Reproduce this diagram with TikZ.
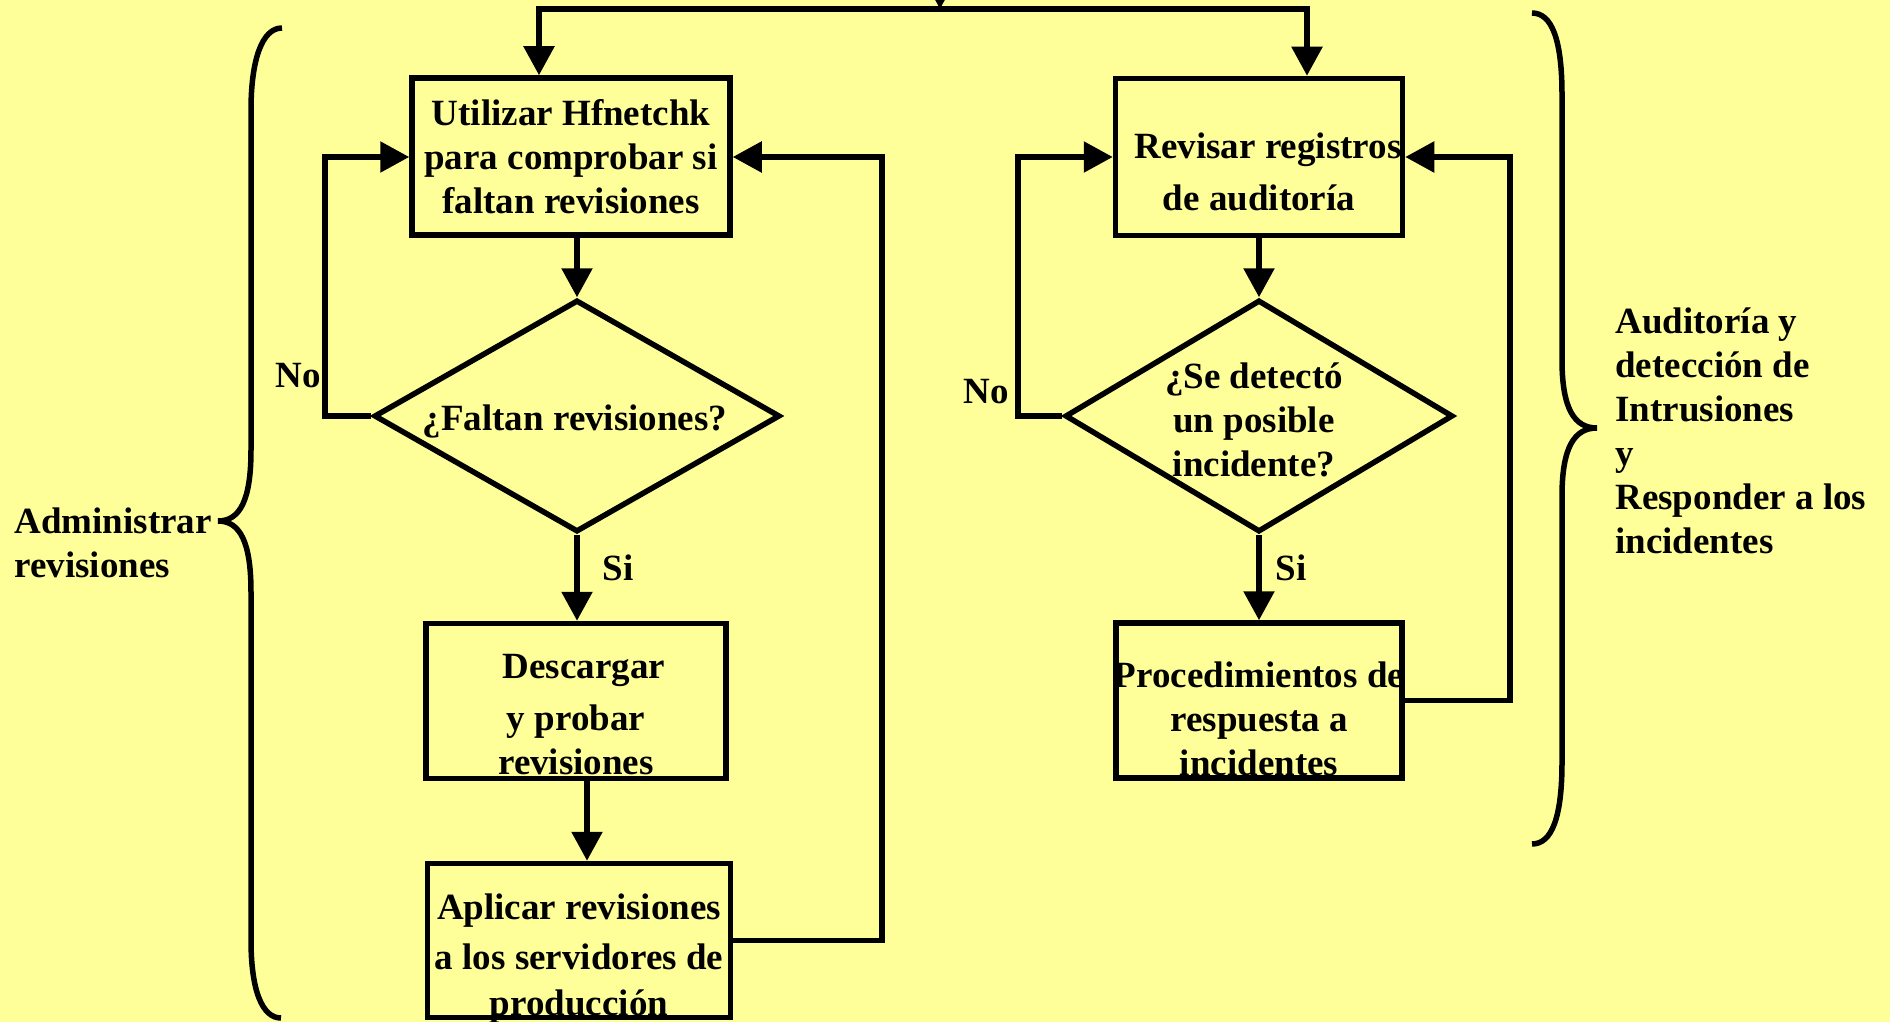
\documentclass[tikz,border=0pt]{standalone}
\usepackage{fontspec}
\setmainfont{Liberation Serif}
\usetikzlibrary{arrows.meta,shapes.geometric}
\definecolor{bgyellow}{HTML}{FFFF99}
\begin{document}
\begin{tikzpicture}[x=0.5pt,y=-0.5pt,
  every node/.style={font=\fontsize{18.5}{22}\selectfont\bfseries},
  box/.style={draw, rectangle, line width=2.75pt, inner sep=0pt},
  dia/.style={draw, diamond, line width=2.75pt, inner sep=0pt},
  txt/.style={align=center, inner sep=0pt},
  sidelabel/.style={align=left, anchor=west, inner sep=0pt},
  flow/.style={line width=2.75pt, -{Triangle[length=14.5pt,width=15pt]}},
  brace/.style={line width=2.75pt}]
\fill[bgyellow] (0,0) rectangle (1890,1022);
\useasboundingbox (0,0) rectangle (1890,1022);

% shapes
\node[box, minimum width=159pt, minimum height=78.5pt] (b1) at (571,156.5) {};
\node[box, minimum width=143.5pt, minimum height=78.5pt] (r1) at (1259,157) {};
\node[box, minimum width=150pt, minimum height=77.5pt] (l2) at (576,701) {};
\node[box, minimum width=151.5pt, minimum height=77pt] (l3) at (579,940.5) {};
\node[box, minimum width=143pt, minimum height=77.5pt] (r2) at (1259,700.5) {};
\node[dia, minimum width=203pt, minimum height=116pt] (d1) at (577,416) {};
\node[dia, minimum width=194pt, minimum height=116pt] (d2) at (1259,416) {};

% texts
\node[txt] (t1) at (571,157) {Utilizar Hfnetchk\\para comprobar si\\faltan revisiones};
\node[txt] (tr1) at (1268,172) {Revisar registros\\[4pt]de auditoría\rule{9pt}{0pt}};
\node[txt] (tl2) at (576,715) {\rule{8pt}{0pt}Descargar\\[4pt]y probar\\revisiones};
\node[txt] (tl3) at (579,959) {Aplicar revisiones\\[3pt]a los servidores de\\[1pt]producción};
\node[txt] (tr2) at (1259,719) {Procedimientos de\\respuesta a\\incidentes};
\node[txt] (td1) at (575,421) {¿Faltan revisiones?};
\node[txt] (td2) at (1254,420) {¿Se detectó\\un posible\\incidente?};

\node[txt] (noL) at (298,376) {No};
\node[txt] (noR) at (986,392) {No};
\node[txt] (siL) at (618,568) {Si};
\node[txt] (siR) at (1291,568) {Si};

\node[sidelabel] (adm) at (14,543) {Administrar\\revisiones};
\node[sidelabel] (aud) at (1615,431) {Auditoría y\\detección de\\Intrusiones\\y\\Responder a los\\incidentes};

% connectors
\coordinate (topin) at (940,-40);
\coordinate (split) at (940,9);
\coordinate (jL) at (539,9);
\coordinate (jR) at (1307,9);
\draw[flow] (topin) -- (split);
\draw[flow] (split) -- (jL) -- (jL |- b1.north);
\draw[flow] (split) -- (jR) -- (jR |- r1.north);

\draw[flow] (d1.north |- b1.south) -- (d1.north);
\draw[flow] (d1.south) -- (d1.south |- l2.north);
\coordinate (l2o) at ([xshift=5.5pt]l2.south);
\draw[flow] (l2o) -- (l2o |- l3.north);
\coordinate (fbL) at (882,157);
\draw[flow] (l3.east) -| (fbL) -- (fbL -| b1.east);
\coordinate (nL) at (325,157);
\draw[flow] (d1.west) -| (nL) -- (nL -| b1.west);

\draw[flow] (d2.north |- r1.south) -- (d2.north);
\draw[flow] (d2.south) -- (d2.south |- r2.north);
\coordinate (fbR) at (1510,157);
\draw[flow] (r2.east) -| (fbR) -- (fbR -| r1.east);
\coordinate (nR) at (1018,157);
\draw[flow] (d2.west) -| (nR) -- (nR -| r1.west);

% braces
\draw[brace] (282,28) .. controls (262,28) and (251,60) .. (251,110) -- (251,450)
  .. controls (251,500) and (240,521) .. (218,521)
  .. controls (240,521) and (251,542) .. (251,592) -- (251,940)
  .. controls (251,990) and (262,1018) .. (281,1018);
\draw[brace] (1532,13) .. controls (1552,13) and (1562,40) .. (1562,95) -- (1562,360)
  .. controls (1562,410) and (1575,428) .. (1597,428)
  .. controls (1575,428) and (1562,446) .. (1562,496) -- (1562,762)
  .. controls (1562,817) and (1552,844) .. (1532,844);
\end{tikzpicture}
\end{document}
